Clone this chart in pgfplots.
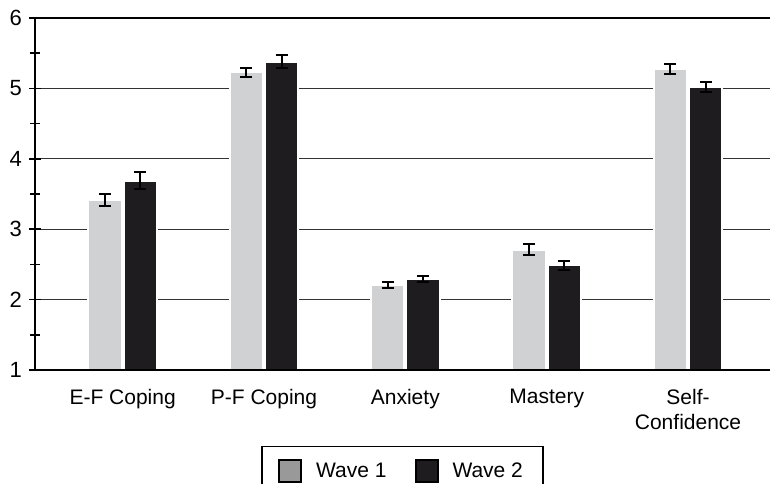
\documentclass[border=0pt]{standalone}
\usepackage{pgfplots}
\pgfplotsset{compat=1.18}
\usepackage{fontspec}
\setmainfont{Liberation Sans}
\definecolor{wone}{HTML}{D0D1D3}
\definecolor{wtwo}{HTML}{1E1C1E}
\definecolor{wleg}{HTML}{999999}
\begin{document}
\begin{tikzpicture}
\begin{axis}[
  name=ax, at={(0,0)}, anchor=south west,
  scale only axis, width=367.5pt, height=176pt,
  xmin=-0.62, xmax=4.58, ymin=1, ymax=6,
  axis x line*=box, axis y line*=left,
  axis line style={black, line width=0.9pt},
  xtick={0,1,2,3,4},
  xticklabels={E-F Coping,P-F Coping,Anxiety,Mastery,{Self-\\Confidence}},
  x tick label style={align=center, font=\fontsize{10.5}{12.6}\selectfont},
  xtick style={draw=none},
  ytick={1,2,3,4,5,6},
  minor y tick num=1,
  tick align=center,
  major tick length=6pt, minor tick length=5pt,
  ytick style={black, line width=0.8pt},
  y tick label style={font=\fontsize{11}{13}\selectfont},
  /pgf/number format/assume math mode=true,
  ymajorgrids,
  major grid style={black!80, line width=0.55pt},
  ybar, bar width=0.234,
  legend style={at={(0.5,-0.216)}, anchor=north, draw=black, line width=0.7pt,
    legend columns=2, font=\fontsize{10.5}{12.6}\selectfont,
    inner xsep=8pt, inner ysep=6pt,
    /tikz/every odd column/.append style={column sep=5pt},
    /tikz/every even column/.append style={column sep=12pt}},
]
\addplot[fill=wone, draw=white, line width=1pt, bar shift=-0.125,
  error bars/.cd, y dir=both, y explicit,
  error bar style={black, line width=1pt},
  error mark options={rotate=90, black, mark size=3pt, line width=1pt},
  /pgfplots/legend image code/.code={\draw[fill=wleg, draw=black, line width=1pt] (0pt,-5pt) rectangle (11pt,6pt);}]
coordinates {(0,3.42) +- (0,0.085) (1,5.23) +- (0,0.066) (2,2.21) +- (0,0.04) (3,2.71) +- (0,0.08) (4,5.28) +- (0,0.07)};
\addlegendentry{Wave 1}
\addplot[fill=wtwo, draw=white, line width=1pt, bar shift=0.125,
  error bars/.cd, y dir=both, y explicit,
  error bar style={black, line width=1pt},
  error mark options={rotate=90, black, mark size=3pt, line width=1pt},
  /pgfplots/legend image code/.code={\draw[fill=wtwo, draw=black, line width=1pt] (0pt,-5pt) rectangle (11pt,6pt);}]
coordinates {(0,3.69) +- (0,0.12) (1,5.38) +- (0,0.09) (2,2.29) +- (0,0.043) (3,2.49) +- (0,0.065) (4,5.02) +- (0,0.077)};
\addlegendentry{Wave 2}
\end{axis}
\draw[black, line width=1pt] (ax.south west) -- (ax.south east);
\pgfresetboundingbox
\path[use as bounding box] (-17.5pt,-56.5pt) rectangle (367.5pt,185pt);
\end{tikzpicture}
\end{document}
